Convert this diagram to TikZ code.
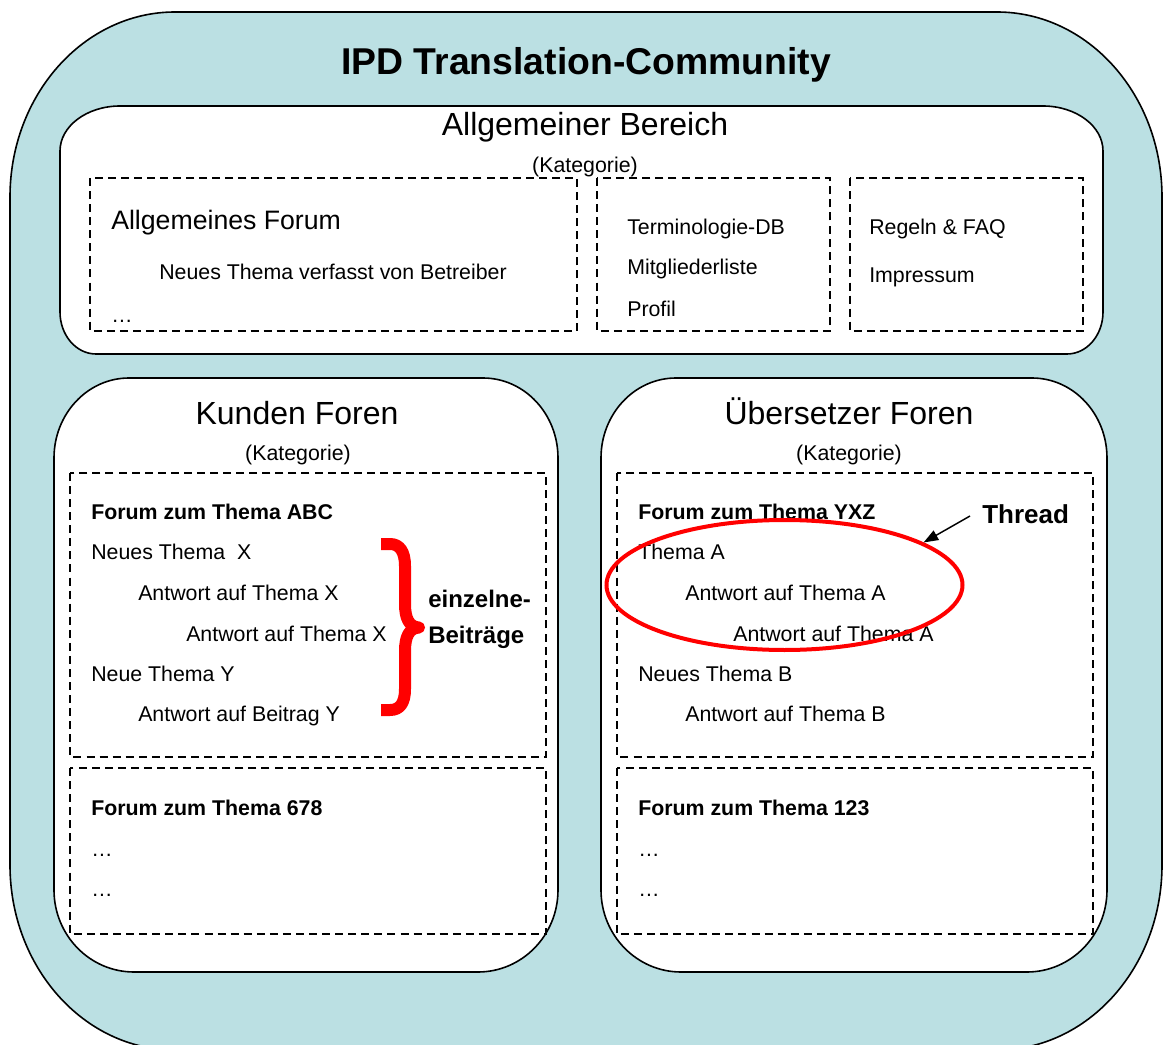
\documentclass[tikz,border=0pt]{standalone}
\usepackage{fontspec}
\setmainfont{Liberation Sans}
\usetikzlibrary{shapes.geometric,arrows.meta}
\definecolor{commbg}{RGB}{187,224,227}
\definecolor{bracered}{RGB}{255,0,0}
% #1 options, #2 L, #3 T, #4 R, #5 B, #6 top rx, #7 top ry, #8 bottom rx, #9 bottom ry
\newcommand\myrrect[9]{%
 \path[#1] (#2,{#3+#7}) .. controls (#2,{#3+0.448*#7}) and ({#2+0.448*#6},#3) .. ({#2+#6},#3)
  -- ({#4-#6},#3) .. controls ({#4-0.448*#6},#3) and (#4,{#3+0.448*#7}) .. (#4,{#3+#7})
  -- (#4,{#5-#9}) .. controls (#4,{#5-0.448*#9}) and ({#4-0.448*#8},#5) .. ({#4-#8},#5)
  -- ({#2+#8},#5) .. controls ({#2+0.448*#8},#5) and (#2,{#5-0.448*#9}) .. (#2,{#5-#9}) -- cycle;}
\begin{document}
\begin{tikzpicture}[x=0.75pt,y=-0.75pt,
  box/.style={draw=black,line width=1.2pt,fill=white},
  dbox/.style={draw=black,line width=1pt,dash pattern=on 6pt off 3.8pt},
  txt/.style={anchor=base west,inner sep=0pt,font=\fontsize{16}{19}\selectfont},
  btxt/.style={anchor=base west,inner sep=0pt,font=\fontsize{16}{19}\selectfont\bfseries},
  head/.style={anchor=base,inner sep=0pt,font=\fontsize{24}{29}\selectfont},
  kat/.style={anchor=base,inner sep=0pt,font=\fontsize{16}{19}\selectfont},
  note/.style={anchor=base west,inner sep=0pt,font=\fontsize{18}{22}\selectfont\bfseries},
]
\useasboundingbox (0,0) rectangle (1165,1045);
\clip (0,0) rectangle (1165,1045);
% outer community box
\myrrect{draw=black,line width=1.2pt,fill=commbg}{10}{12}{1162}{1050}{165}{185}{165}{185}
\node[anchor=base,inner sep=0pt,font=\fontsize{28}{34}\selectfont\bfseries] (title) at (586,75) {IPD Translation-Community};

% Allgemeiner Bereich
\myrrect{box}{60}{106}{1103}{354}{60}{45}{36}{42}
\draw[dbox] (90,178) rectangle (577,331);
\draw[dbox] (597,178) rectangle (830,331);
\draw[dbox] (850,178) rectangle (1083,331);
\node[head] (allg) at (585,136) {Allgemeiner Bereich};
\node[kat] (allgkat) at (585,173) {(Kategorie)};
\node[anchor=base west,inner sep=0pt,font=\fontsize{20}{24}\selectfont] (allgforum) at (111,230) {Allgemeines Forum};
\node[txt] (allgneu) at (159,280) {Neues Thema verfasst von Betreiber};
\node[txt] (allgdots) at (111,322) {\dots};
\node[txt] (termdb) at (627,235) {Terminologie-DB};
\node[txt] (mitgl) at (627,275) {Mitgliederliste};
\node[txt] (profil) at (627,316) {Profil};
\node[txt] (regeln) at (869,235) {Regeln \& FAQ};
\node[txt] (impr) at (869,283) {Impressum};

% Kunden Foren
\myrrect{box}{54}{378}{558}{972}{75}{80}{80}{82}
\draw[dbox] (70,473) rectangle (546,757);
\draw[dbox] (70,768) rectangle (546,934);
\node[head] (kunden) at (297,424) {Kunden Foren};
\node[kat] (kundenkat) at (298,460) {(Kategorie)};
\node[btxt] (kabc) at (91,519) {Forum zum Thema ABC};
\node[txt] (kx) at (91,559) {Neues Thema\ \ X};
\node[txt] (kx1) at (138,600) {Antwort auf Thema X};
\node[txt] (kx2) at (186,641) {Antwort auf Thema X};
\node[txt] (ky) at (91,681) {Neue Thema Y};
\node[txt] (ky1) at (138,721) {Antwort auf Beitrag Y};
\node[btxt] (k678) at (91,815) {Forum zum Thema 678};
\node[txt] (kd1) at (91,856) {\dots};
\node[txt] (kd2) at (91,896) {\dots};

% Uebersetzer Foren
\myrrect{box}{601}{378}{1107}{972}{75}{80}{80}{82}
\draw[dbox] (617,473) rectangle (1093,757);
\draw[dbox] (617,768) rectangle (1093,934);
\node[head] (ueb) at (849,424) {Übersetzer Foren};
\node[kat] (uebkat) at (849,460) {(Kategorie)};
\node[btxt] (uyxz) at (638,519) {Forum zum Thema YXZ};
\node[txt] (ua) at (638,559) {Thema A};
\node[txt] (ua1) at (685,600) {Antwort auf Thema A};
\node[txt] (ua2) at (733,641) {Antwort auf Thema A};
\node[txt] (ub) at (638,681) {Neues Thema B};
\node[txt] (ub1) at (685,721) {Antwort auf Thema B};
\node[btxt] (u123) at (638,815) {Forum zum Thema 123};
\node[txt] (ud1) at (638,856) {\dots};
\node[txt] (ud2) at (638,896) {\dots};

% brace and label
\draw[bracered,line width=9pt,line join=round]
  (381,544) -- (390,544) .. controls (400,544) and (405,552) .. (405,566)
  -- (405,604) .. controls (405,618) and (409,627) .. (419,627.5)
  .. controls (409,628) and (405,637) .. (405,651)
  -- (405,689) .. controls (405,703) and (400,710) .. (390,710) -- (381,710);
\node[note] (einz) at (428,607) {einzelne-};
\node[note] (beitr) at (428,643) {Beiträge};

% thread ellipse and arrow
\node[ellipse,draw=bracered,line width=3pt,minimum width=267pt,minimum height=97.5pt,inner sep=0pt] (ell) at (784.5,585) {};
\node[anchor=base west,inner sep=0pt,font=\fontsize{19.5}{23}\selectfont\bfseries] (thread) at (982,523) {Thread};
\coordinate (thrtail) at (970,516);
\draw[line width=1.1pt,-{Triangle[length=11pt,width=8pt]}] (thrtail) -- (ell.17);
\end{tikzpicture}
\end{document}
